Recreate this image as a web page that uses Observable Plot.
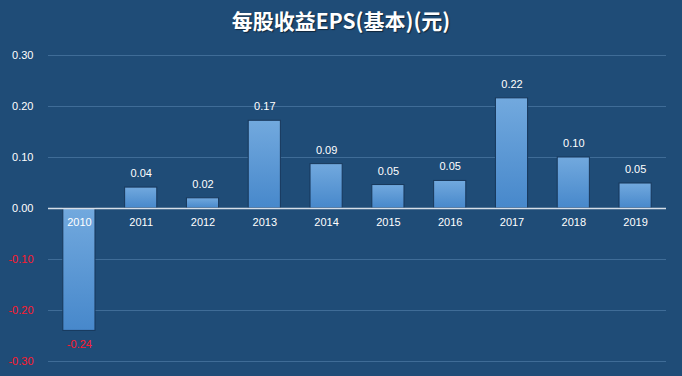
<!DOCTYPE html>
<html><head><meta charset="utf-8">
<script src="https://cdn.jsdelivr.net/npm/d3@7"></script>
<script src="https://cdn.jsdelivr.net/npm/@observablehq/plot@0.6"></script>
<style>
html,body{margin:0;padding:0;background:#1f4c77;width:682px;height:376px;overflow:hidden}
#title{box-sizing:border-box;height:40px;padding-top:6px;text-align:center;color:#fff;font:bold 21px "Noto Sans CJK SC","Noto Sans",sans-serif;line-height:28px;letter-spacing:0;text-shadow:1px 1px 1px rgba(0,0,0,0.5)}
</style></head>
<body>
<div id="title">每股收益EPS(基本)(元)</div>
<div id="chart"></div>
<script>
const years = ["2010","2011","2012","2013","2014","2015","2016","2017","2018","2019"];
const eps = [-0.24, 0.041, 0.02, 0.172, 0.087, 0.046, 0.054, 0.216, 0.10, 0.049];
const yTicks = [-0.3, -0.2, -0.1, 0, 0.1, 0.2, 0.3];

const data = years.map((y, i) => ({year: y, v: eps[i]}));
const pos = data.filter(d => d.v >= 0);
const neg = data.filter(d => d.v < 0);
const font = "Liberation Sans, Arial, sans-serif";
const red = "#ff1a2e";

const plot = Plot.plot({
  width: 682, height: 336,
  marginLeft: 48, marginRight: 16, marginTop: 15, marginBottom: 15,
  style: {background: "transparent", fontFamily: font, fontSize: "11px"},
  x: {domain: years, paddingInner: 0.48, paddingOuter: 0.24, round: false, axis: null},
  y: {domain: [-0.3, 0.3], axis: null},
  marks: [
    Plot.ruleY(yTicks.filter(d => d !== 0), {stroke: "#3f6c97", strokeWidth: 1}),
    Plot.barY(data, {x: "year", y: "v", fill: "url(#barGrad)", stroke: "#17375a", strokeWidth: 1}),
    Plot.ruleY([0], {stroke: "#d6dee8", strokeWidth: 1.5}),
    Plot.text(yTicks, {y: d => d, text: d => d.toFixed(2), frameAnchor: "left", textAnchor: "end", dx: -15,
      fill: d => d < 0 ? red : "#ffffff", fontSize: 11}),
    Plot.text(data, {x: "year", y: 0, text: "year", dy: 14, fill: "#ffffff", fontSize: 11}),
    Plot.text(pos, {x: "year", y: "v", text: d => d.v.toFixed(2), dy: -14, fill: "#ffffff", fontSize: 11}),
    Plot.text(neg, {x: "year", y: "v", text: d => d.v.toFixed(2), dy: 14, fill: red, fontSize: 11})
  ]
});

const svg = d3.select(plot);
const defs = svg.insert("defs", ":first-child");
const g = defs.append("linearGradient").attr("id", "barGrad").attr("x1", 0).attr("y1", 0).attr("x2", 0).attr("y2", 1);
g.append("stop").attr("offset", "0%").attr("stop-color", "#72a9de");
g.append("stop").attr("offset", "100%").attr("stop-color", "#4788cb");
document.getElementById("chart").appendChild(plot);
</script>
</body></html>
